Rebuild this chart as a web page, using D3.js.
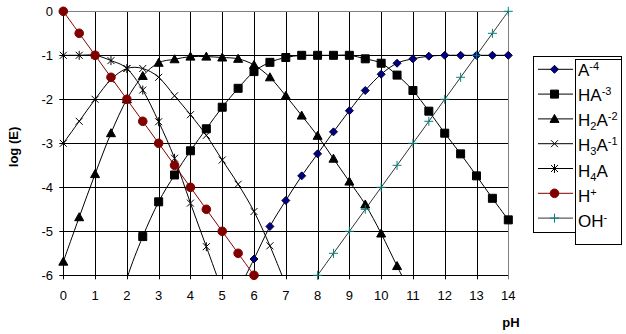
<!DOCTYPE html>
<html>
<head>
<meta charset="utf-8">
<script src="https://cdn.jsdelivr.net/npm/d3@7/dist/d3.min.js"></script>
<style>
  body { margin: 0; background: #fff; }
  text { font-family: Arial, "Liberation Sans", sans-serif; }
</style>
</head>
<body>
<script>
var width = 626;
var height = 334;

// pH values shared by every series
var pH = [0, 0.5, 1, 1.5, 2, 2.5, 3, 3.5, 4, 4.5, 5, 5.5, 6, 6.5, 7,
          7.5, 8, 8.5, 9, 9.5, 10, 10.5, 11, 11.5, 12, 12.5, 13, 13.5, 14];
var xTicks = [0, 1, 2, 3, 4, 5, 6, 7, 8, 9, 10, 11, 12, 13, 14];
var yTicks = [0, -1, -2, -3, -4, -5, -6];

// log(E) per series, null where the series has no point
var A4   = [null, null, null, null, null, null, null, null, null, null, null, -6.35, -5.63, -4.89, -4.30,
            -3.74, -3.24, -2.74, -2.26, -1.80, -1.43, -1.18, -1.08, -1.02, -1.0, -1.0, -1.0, -1.0, -1.0];
var HA3  = [null, null, null, -7.4, -6.08, -5.12, -4.33, -3.72, -3.17, -2.67, -2.18, -1.75, -1.37, -1.16, -1.05,
            -1.0, -1.0, -1.0, -1.0, -1.08, -1.18, -1.45, -1.80, -2.27, -2.77, -3.24, -3.74, -4.25, -4.74];
var H2A2 = [-5.69, -4.68, -3.70, -2.77, -2.0, -1.47, -1.17, -1.09, -1.03, -1.03, -1.05, -1.08, -1.22, -1.5, -1.92,
            -2.37, -2.83, -3.35, -3.87, -4.39, -5.05, -5.79, -6.5, null, null, null, null, null, null];
var H3A1 = [-3.0, -2.5, -2.0, -1.55, -1.3, -1.3, -1.5, -1.92, -2.35, -2.82, -3.38, -3.93, -4.55, -5.33, -6.22,
            null, null, null, null, null, null, null, null, null, null, null, null, null, null];
var H4A  = [-1.0, -1.0, -1.0, -1.12, -1.3, -1.79, -2.51, -3.34, -4.36, -5.35, -6.35,
            null, null, null, null, null, null, null, null, null, null, null, null, null, null, null, null, null, null];
var Hp   = [0, -0.5, -1, -1.5, -2, -2.5, -3, -3.5, -4, -4.5, -5, -5.5, -6,
            null, null, null, null, null, null, null, null, null, null, null, null, null, null, null, null];
var OHm  = [null, null, null, null, null, null, null, null, null, null, null, null, null, null, null, null,
            -6, -5.5, -5, -4.5, -4, -3.5, -3, -2.5, -2, -1.5, -1, -0.5, 0];

var marker = {
  diamond: 'M0,-4L4,0L0,4L-4,0Z',
  square: 'M-4,-4H4V4H-4Z',
  triangle: 'M0,-4.5L4.5,3.5L-4.5,3.5Z',
  cross: 'M-3.5,-3.5L3.5,3.5M-3.5,3.5L3.5,-3.5',
  star: 'M-3.5,-3.5L3.5,3.5M-3.5,3.5L3.5,-3.5M0,-4.5V4.5',
  circle: 'M4.3,0A4.3,4.3 0 1,1 -4.3,0A4.3,4.3 0 1,1 4.3,0Z',
  plus: 'M-4.5,0H4.5M0,-4.5V4.5'
};

var series = [
  {name: 'A', sub: '', sup: '-4', values: A4, shape: 'diamond', line: '#000', fill: '#000080', stroke: '#000040'},
  {name: 'HA', sub: '', sup: '-3', values: HA3, shape: 'square', line: '#000', fill: '#000', stroke: '#000'},
  {name: 'H', sub: '2', after: 'A', sup: '-2', values: H2A2, shape: 'triangle', line: '#000', fill: '#000', stroke: '#000'},
  {name: 'H', sub: '3', after: 'A', sup: '-1', values: H3A1, shape: 'cross', line: '#000', fill: 'none', stroke: '#000'},
  {name: 'H', sub: '4', after: 'A', sup: '', values: H4A, shape: 'star', line: '#000', fill: 'none', stroke: '#000'},
  {name: 'H', sub: '', sup: '+', values: Hp, shape: 'circle', line: '#800000', fill: '#800000', stroke: '#800000'},
  {name: 'OH', sub: '', sup: '-', values: OHm, shape: 'plus', line: '#333', fill: 'none', stroke: '#008080'}
];

var x = d3.scaleLinear().domain([0, 14]).range([63.3, 508.3]);
var y = d3.scaleLinear().domain([-6, 0]).range([275.3, 11.3]);

var svg = d3.select('body').append('svg').attr('width', width).attr('height', height);

svg.append('clipPath').attr('id', 'plot')
  .append('rect').attr('x', x(0)).attr('y', y(0))
  .attr('width', x(14) - x(0)).attr('height', y(-6) - y(0));

// grid
svg.selectAll('.vgrid').data(xTicks.slice(0, -1)).enter().append('line')
  .attr('x1', function(d) { return Math.round(x(d)) + 0.5; })
  .attr('x2', function(d) { return Math.round(x(d)) + 0.5; })
  .attr('y1', y(0)).attr('y2', y(-6) + 4)
  .attr('stroke', '#000');
svg.selectAll('.hgrid').data(yTicks.slice(1)).enter().append('line')
  .attr('y1', function(d) { return Math.round(y(d)) + 0.5; })
  .attr('y2', function(d) { return Math.round(y(d)) + 0.5; })
  .attr('x1', x(0) - 4).attr('x2', x(14))
  .attr('stroke', '#000');
svg.append('line').attr('x1', x(0) - 4).attr('x2', x(14))
  .attr('y1', Math.round(y(0)) + 0.5).attr('y2', Math.round(y(0)) + 0.5).attr('stroke', '#808080');
svg.append('line').attr('x1', Math.round(x(14)) + 0.5).attr('x2', Math.round(x(14)) + 0.5)
  .attr('y1', y(0)).attr('y2', y(-6) + 4).attr('stroke', '#808080');
svg.append('line').attr('x1', Math.round(x(0)) + 0.5).attr('x2', Math.round(x(0)) + 0.5)
  .attr('y1', y(0)).attr('y2', y(-6)).attr('stroke', '#000');

// tick labels
svg.selectAll('.xl').data(xTicks).enter().append('text')
  .attr('x', function(d) { return x(d); }).attr('y', 300)
  .attr('text-anchor', 'middle').attr('font-size', 13).text(function(d) { return d; });
svg.selectAll('.yl').data(yTicks).enter().append('text')
  .attr('x', 53).attr('y', function(d) { return y(d) + 4.7; })
  .attr('text-anchor', 'end').attr('font-size', 13).text(function(d) { return d; });

svg.append('text').attr('transform', 'translate(18,147) rotate(-90)')
  .attr('text-anchor', 'middle').attr('font-size', 13).attr('font-weight', 'bold').text('log (E)');
svg.append('text').attr('x', 511).attr('y', 327)
  .attr('text-anchor', 'middle').attr('font-size', 13).attr('font-weight', 'bold').text('pH');

// lines and markers
var line = d3.line()
  .defined(function(d) { return d[1] !== null; })
  .x(function(d) { return x(d[0]); })
  .y(function(d) { return y(d[1]); })
  .curve(d3.curveCatmullRom.alpha(0));

series.forEach(function(s) {
  var pts = pH.map(function(p, i) { return [p, s.values[i]]; });
  svg.append('path').datum(pts.filter(function(d) { return d[1] !== null; }))
    .attr('d', line).attr('fill', 'none').attr('stroke', s.line).attr('stroke-width', 1)
    .attr('clip-path', 'url(#plot)');
});

series.forEach(function(s) {
  var pts = pH.map(function(p, i) { return [p, s.values[i]]; })
    .filter(function(d) { return d[1] !== null && d[1] >= -6; });
  svg.selectAll(null).data(pts).enter().append('path')
    .attr('transform', function(d) { return 'translate(' + x(d[0]) + ',' + y(d[1]) + ')'; })
    .attr('d', marker[s.shape])
    .attr('fill', s.fill).attr('stroke', s.stroke).attr('stroke-width', 1);
});

// legend
svg.append('rect').attr('x', 533.5).attr('y', 56.5).attr('width', 88).attr('height', 176)
  .attr('fill', '#fff').attr('stroke', '#000');
svg.append('rect').attr('x', 575.5).attr('y', 59.5).attr('width', 46).attr('height', 185)
  .attr('fill', '#fff').attr('stroke', '#000');

series.forEach(function(s, i) {
  var ly = 69.3 + i * 24.8;
  svg.append('line').attr('x1', 538).attr('x2', 573).attr('y1', ly).attr('y2', ly)
    .attr('stroke', s.line);
  svg.append('path').attr('transform', 'translate(554.5,' + ly + ')')
    .attr('d', marker[s.shape]).attr('fill', s.fill).attr('stroke', s.stroke);
  var t = svg.append('text').attr('x', 578).attr('y', 75.5 + i * 25.3).attr('font-size', 17);
  t.append('tspan').text(s.name);
  if (s.sub) t.append('tspan').attr('font-size', 11).attr('dy', 4).text(s.sub);
  if (s.after) t.append('tspan').attr('font-size', 17).attr('dy', s.sub ? -4 : 0).text(s.after);
  if (s.sup) t.append('tspan').attr('font-size', 11).attr('dy', -6).text(s.sup);
});
</script>
</body>
</html>
